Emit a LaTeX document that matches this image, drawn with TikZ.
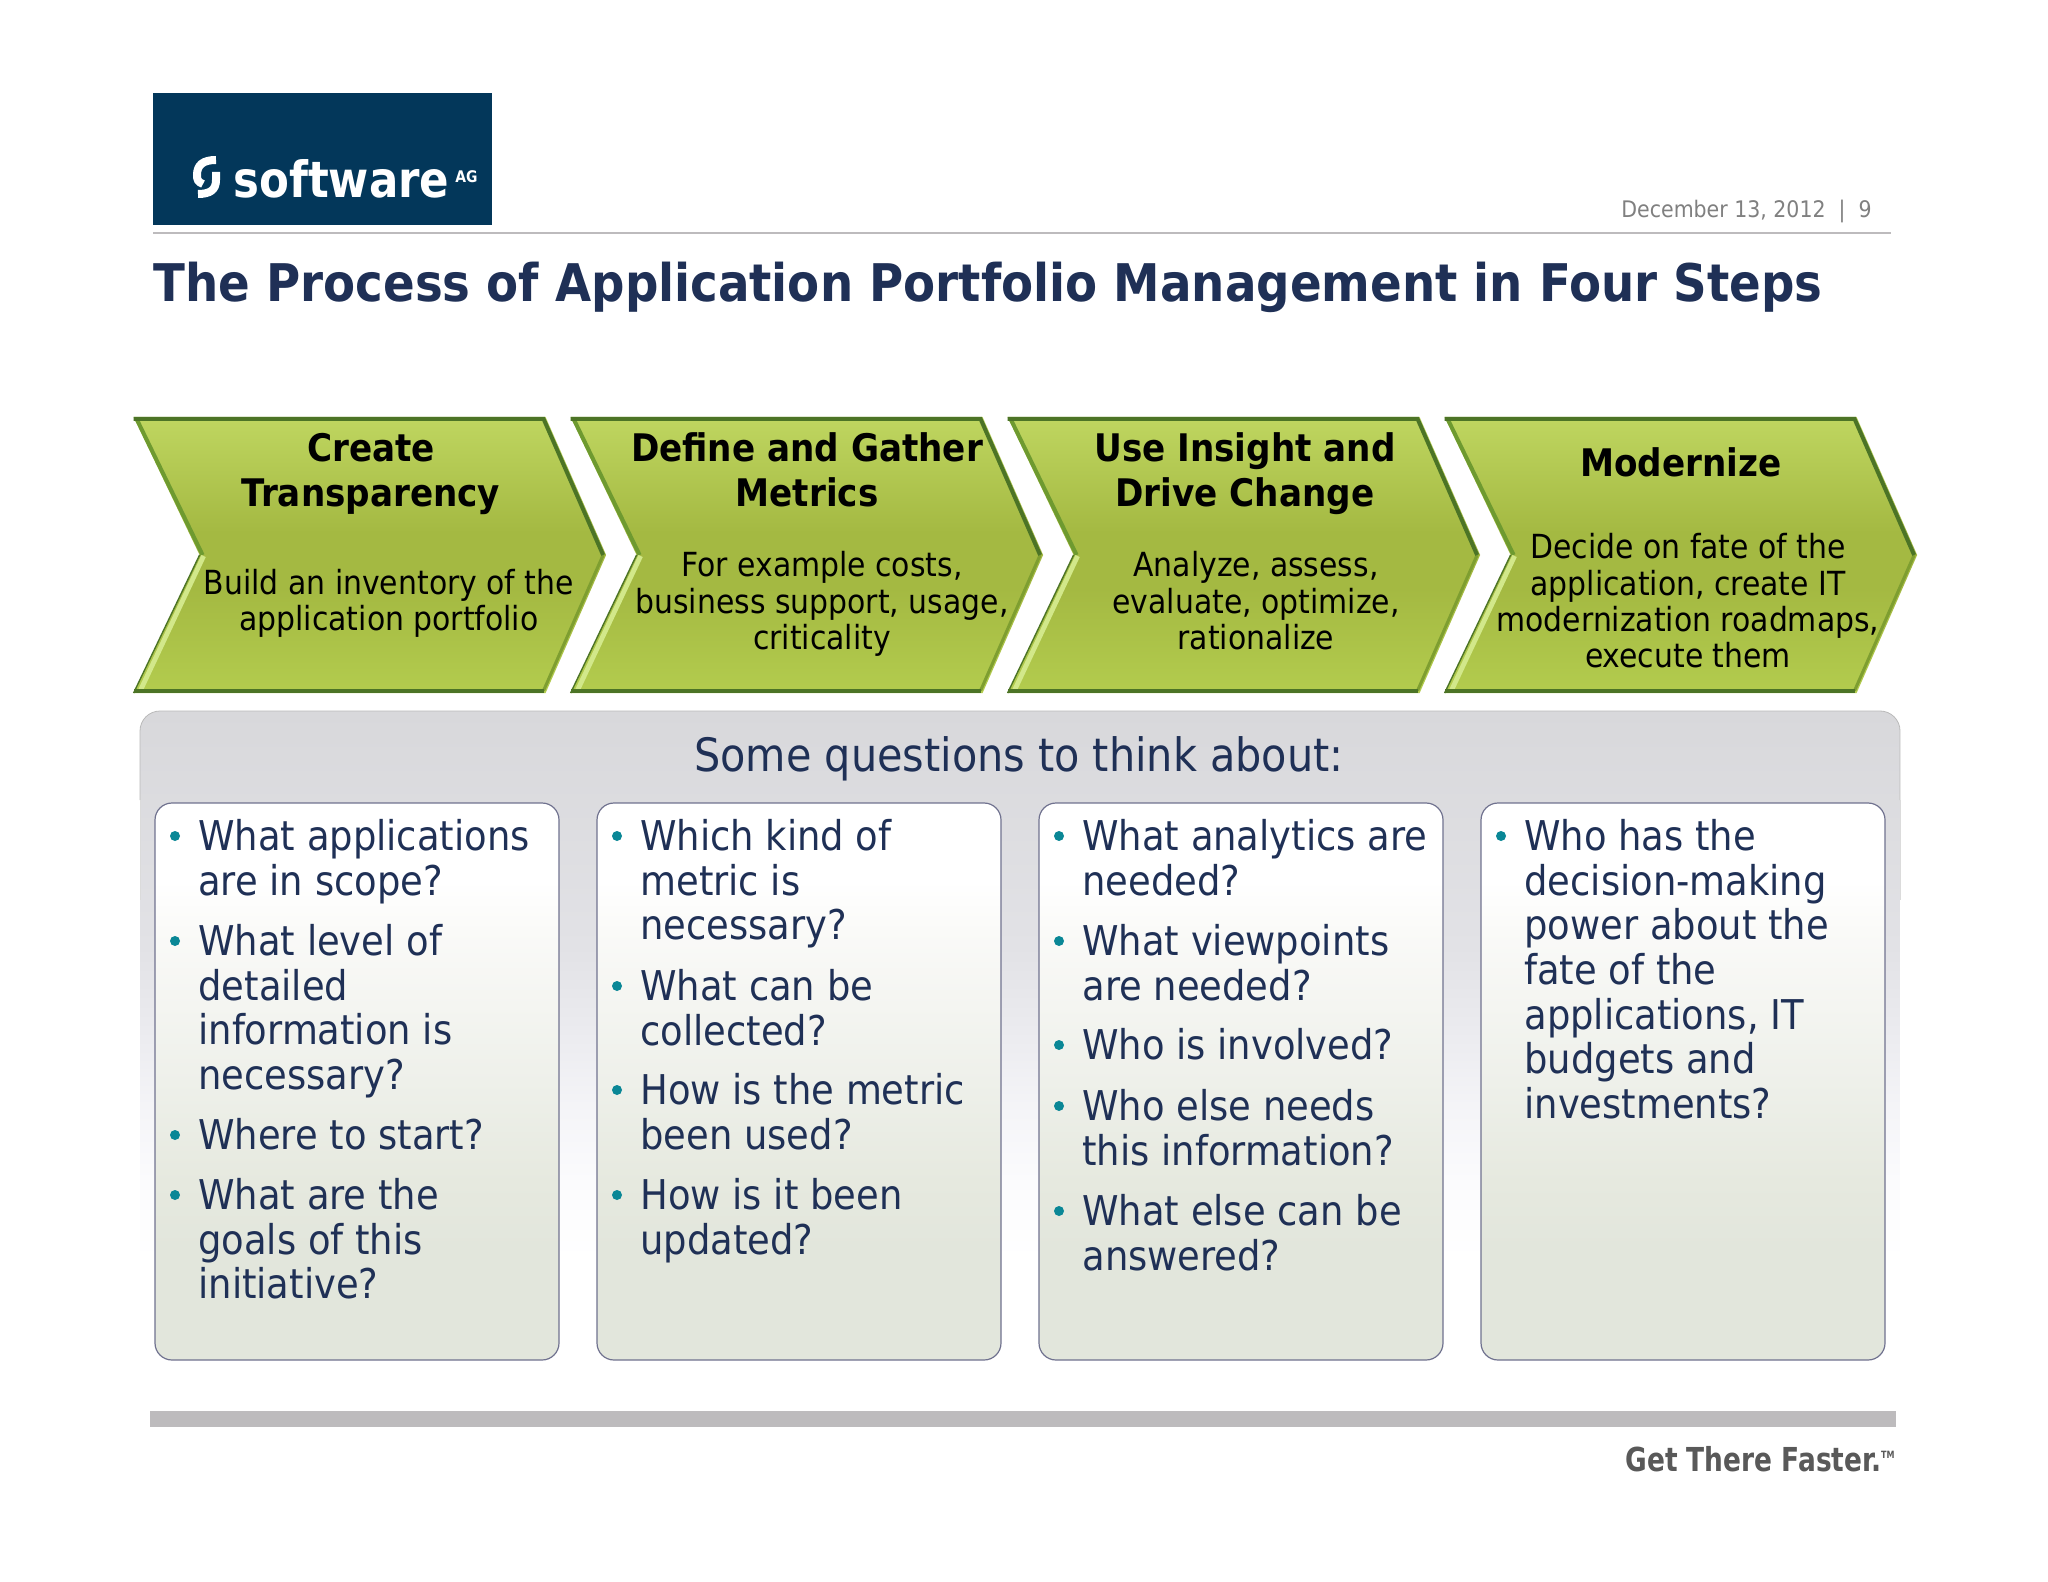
\documentclass[tikz,border=0pt]{standalone}
\usepackage{fontspec}
\setmainfont{DejaVu Sans Condensed}[BoldFont={DejaVu Sans Condensed Bold}]
\newfontfamily\logofont{DejaVu Sans Bold}[FakeStretch=0.87]
\newfontfamily\gtffont{DejaVu Sans Condensed Bold}[FakeStretch=0.89]
\definecolor{navy}{HTML}{1F3056}
\definecolor{logoblue}{HTML}{03375A}
\definecolor{rulegrey}{HTML}{BDBBBD}
\definecolor{greenedge}{HTML}{4C7426}
\definecolor{greenedgeb}{HTML}{6E9A30}
\definecolor{greenedgec}{HTML}{7E9E30}
\definecolor{greenrim}{HTML}{D2E88A}
\definecolor{bullett}{HTML}{0A8796}
\definecolor{greentop}{HTML}{BFD660}
\definecolor{greenmid}{HTML}{A4B942}
\definecolor{greenend}{HTML}{B3CC4E}
\definecolor{cardend}{HTML}{E2E6DC}
\definecolor{cardB}{HTML}{E6E9DF}
\definecolor{cardC}{HTML}{EEF0EA}
\definecolor{cardD}{HTML}{FAFAF8}
\definecolor{cardline}{HTML}{70728F}
\definecolor{panelA}{HTML}{D8D8DB}
\definecolor{panelB}{HTML}{E2E2E6}
\definecolor{panelC}{HTML}{EDEDF1}
\definecolor{panelD}{HTML}{F5F5F8}
\definecolor{panelE}{HTML}{FBFBFD}
\pgfdeclareverticalshading{chevsh}{100bp}{color(0bp)=(greenend);color(25bp)=(greenend);color(44bp)=(greenmid);color(54bp)=(greenmid);color(75bp)=(greentop);color(100bp)=(greentop)}
\pgfdeclareverticalshading{cardsh}{100bp}{color(0bp)=(cardend);color(25bp)=(cardend);color(35bp)=(cardend);color(41bp)=(cardB);color(50bp)=(cardC);color(63.6bp)=(cardD);color(68bp)=(white);color(100bp)=(white)}
\pgfdeclareverticalshading{panelsh}{100bp}{color(0bp)=(white);color(32.7bp)=(white);color(38.9bp)=(panelE);color(44bp)=(panelD);color(49bp)=(panelC);color(56.8bp)=(panelB);color(75bp)=(panelA);color(100bp)=(panelA)}
\tikzset{
 body/.style={anchor=north west,inner sep=0pt,align=left,text=navy,font=\fontsize{20.5}{22.35}\selectfont},
 bul/.style={inner sep=0pt,circle,fill=bullett,minimum size=5pt},
 head/.style={anchor=center,inner sep=0pt,align=center,font=\fontsize{19}{22.35}\selectfont\bfseries},
 sub/.style={anchor=center,inner sep=0pt,align=center,font=\fontsize{16.6}{18.2}\selectfont},
 cardbox/.style={draw=cardline,line width=0.6pt,rounded corners=8.5pt,shading=cardsh},
}
\newcommand{\chev}[1]{%
 \shade[shading=chevsh] (#1,417)--++(412,0)--++(60.5,138)--++(-60.5,138)--++(-412,0)--++(66,-138)--cycle;
 \draw[greenedgeb,line width=2pt] (#1+3,419)--(#1+69,555);
 \draw[greenrim,line width=2.4pt] (#1+70,556)--(#1+7,690);
 \draw[greenedge,line width=.7pt] (#1+66,555)--(#1,693);
 \draw[greenedgec,line width=1.5pt] (#1+469.5,555)--(#1+410,690.5);
 \draw[greenedge,line width=2pt] (#1+410,691)--(#1,691);
 \draw[greenedge,line width=2pt,line join=miter] (#1,419)--++(410,0)--++(59.5,136);
}
\newcommand{\Q}[4]{%
 \node[bul] (b#1) at (#2-23,#3-14) {};
 \node[body] (t#1) at (#2,#3-31.3) {\strut #4};
}
\begin{document}
\begin{tikzpicture}[x=0.5pt,y=-0.5pt]
\useasboundingbox (0,0) rectangle (2048,1582);
\fill[white] (0,0) rectangle (2048,1582);
\fill[logoblue] (153,93) rectangle (492,225);
\draw[white,line width=4pt] (216,160) .. controls (203,160) and (197,165) .. (197,175) .. controls (197,180) and (198,182) .. (203,184);
\draw[white,line width=4pt] (216,172) -- (216,180) .. controls (216,190) and (210,194) .. (198,194);
\node[inner sep=0pt,anchor=base west,text=white,font=\logofont\fontsize{25}{25}\selectfont] (logo) at (233,198) {software};
\node[inner sep=0pt,anchor=base west,text=white,font=\logofont\fontsize{8}{8}\selectfont] (ag) at (455,183) {AG};
\node[inner sep=0pt,anchor=base east,text=black!50,font=\fontsize{11.4}{15}\selectfont] (date) at (1872,218) {December 13, 2012 \ | \ 9};
\fill[rulegrey] (153,232) rectangle (1891,234.5);
\node[inner sep=0pt,anchor=base west,text=navy,font=\fontsize{25.95}{35}\selectfont\bfseries] (title) at (153,302) {The Process of Application Portfolio Management in Four Steps};
\foreach \x in {133.6,570.6,1007.6,1444.6}{\chev{\x}}
\node[head] (h1) at (371,475.4) {\strut Create\\\strut Transparency};
\node[head] (h2) at (807,475.4) {\strut Define and Gather\\\strut Metrics};
\node[head] (h3) at (1245,475.4) {\strut Use Insight and\\\strut Drive Change};
\node[head] (h4) at (1681,468) {\strut Modernize};
\node[sub] (s1) at (389,605) {\strut Build an inventory of the\\\strut application portfolio};
\node[sub] (s2) at (822,606) {\strut For example costs,\\\strut business support, usage,\\\strut criticality};
\node[sub] (s3) at (1256,606) {\strut Analyze, assess,\\\strut evaluate, optimize,\\\strut rationalize};
\node[sub] (s4) at (1688,606) {\strut Decide on fate of the\\\strut application, create IT\\\strut modernization roadmaps,\\\strut execute them};
\shade[rounded corners=10pt,shading=panelsh] (140,711) rectangle (1900,1360);
\draw[black!27,line width=0.4pt,rounded corners=10pt] (140,800) -- (140,711) -- (1900,711) -- (1900,800);
\draw[black!14,line width=0.4pt] (140,800) -- (140,900);
\draw[black!14,line width=0.4pt] (1900,800) -- (1900,900);
\node[inner sep=0pt,text=navy,font=\fontsize{23}{27}\selectfont] (qh) at (1019,759) {Some questions to think about:};
\foreach \x in {155,597,1039,1481}{
 \path[cardbox] (\x,803) rectangle ++(404,557);
}
\Q{a1}{198}{850}{What applications\\are in scope?}
\Q{a2}{198}{955}{What level of\\detailed\\information is\\necessary?}
\Q{a3}{198}{1149}{Where to start?}
\Q{a4}{198}{1209}{What are the\\goals of this\\initiative?}
\Q{b1}{640}{850}{Which kind of\\metric is\\necessary?}
\Q{b2}{640}{1000}{What can be\\collected?}
\Q{b3}{640}{1104}{How is the metric\\been used?}
\Q{b4}{640}{1209}{How is it been\\updated?}
\Q{c1}{1082}{850}{What analytics are\\needed?}
\Q{c2}{1082}{955}{What viewpoints\\are needed?}
\Q{c3}{1082}{1059}{Who is involved?}
\Q{c4}{1082}{1120}{Who else needs\\this information?}
\Q{c5}{1082}{1225}{What else can be\\answered?}
\Q{d1}{1524}{850}{Who has the\\decision-making\\power about the\\fate of the\\applications, IT\\budgets and\\investments?}
\fill[rulegrey] (150,1411) rectangle (1896,1427);
\node[inner sep=0pt,anchor=base east,text=black!65,font=\gtffont\fontsize{16.5}{20}\selectfont] (gtf) at (1896,1471) {Get There Faster.\textsuperscript{\tiny TM}};
\end{tikzpicture}
\end{document}
